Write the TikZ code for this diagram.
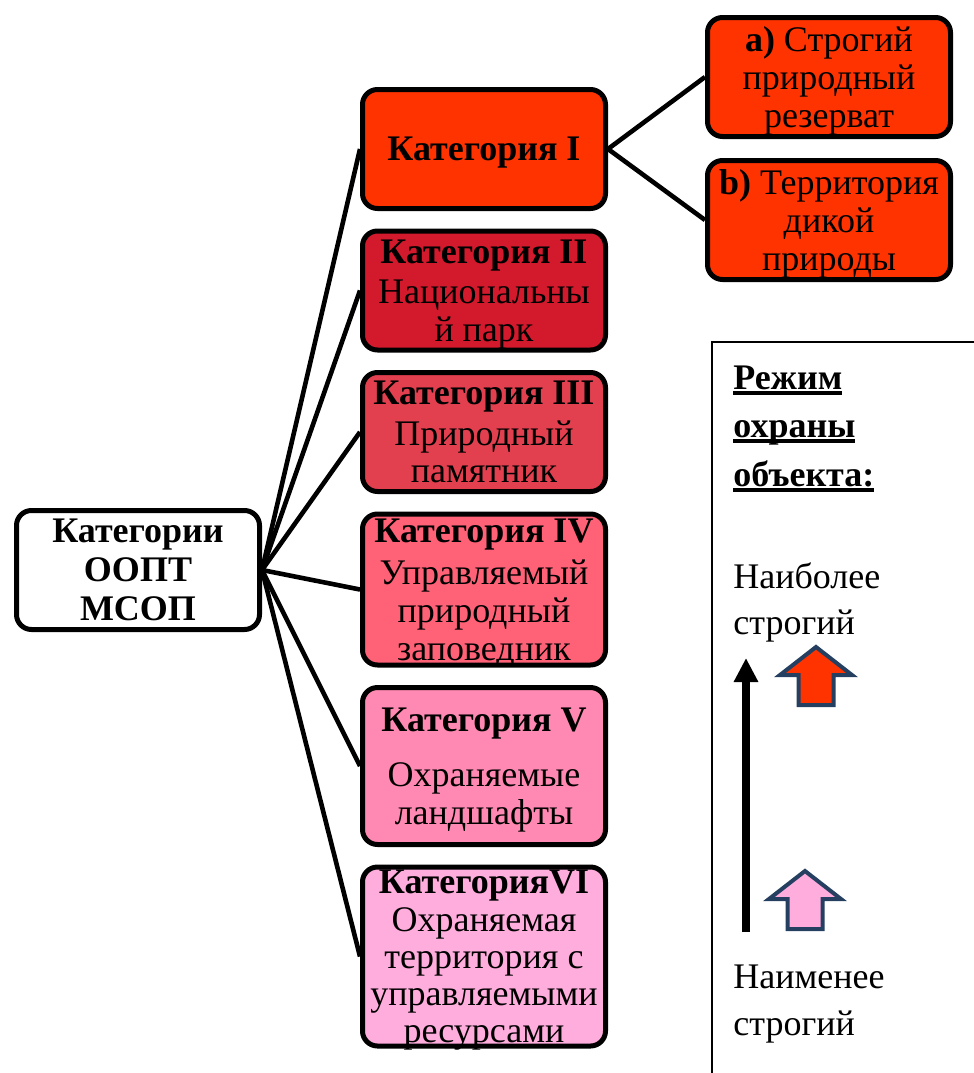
\documentclass[tikz,border=0pt]{standalone}
\usepackage{fontspec}
\setmainfont{Liberation Serif}
\usetikzlibrary{arrows.meta,positioning}

\newcommand{\thickul}[1]{\setbox0\hbox{#1}\makebox[0pt][l]{\rule[-3pt]{\wd0}{1.8pt}}\box0}

\definecolor{catI}{HTML}{FF3300}
\definecolor{catII}{HTML}{D31A2D}
\definecolor{catIII}{HTML}{E2404F}
\definecolor{catIV}{HTML}{FF6177}
\definecolor{catV}{HTML}{FF89B2}
\definecolor{catVI}{HTML}{FFADDD}
\definecolor{rimblue}{HTML}{243F60}

\tikzset{blockup/.pic={
	\path[pic actions] (0,0) -- (36,28) -- (17.5,28) -- (17.5,58) -- (-17.5,58) -- (-17.5,28) -- (-36,28) -- cycle;}}

\begin{document}
\begin{tikzpicture}[x=0.5pt,y=-0.5pt,node distance=8.75pt,font=\fontsize{18}{18.8}\selectfont]
	\tikzstyle{cat}=[draw,line width=2.5pt,rounded corners=7.5pt,align=center,minimum width=121.5pt,minimum height=59.5pt,inner xsep=1pt,inner ysep=0pt,text depth=0pt]
	\tikzstyle{link}=[line width=2.3pt]
	\tikzstyle{legend}=[anchor=base west,inner sep=0pt]
	\tikzstyle{rim}=[draw=rimblue,line width=2pt,line join=miter]

	\useasboundingbox (0,0) rectangle (974,1073);

	\node[cat,fill=white,font=\fontsize{18}{19.5}\selectfont\bfseries] (K) at (138,570) {Категории\\ООПТ\\МСОП};

	\node[cat,fill=catI] (K1) at (484,149) {\textbf{Категория I}};
	\node[cat,fill=catII] (K2) [below = of K1] {\textbf{Категория II}\\[1.5pt]Национальны\\й парк};
	\node[cat,fill=catIII] (K3) [below = of K2] {\textbf{Категория III}\\[1.5pt]Природный\\памятник};
	\node[cat,fill=catIV,minimum height=75.5pt] (K4) [below = of K3] {\textbf{Категория IV}\\[2.5pt]Управляемый\\природный\\заповедник};
	\node[cat,fill=catV,minimum height=78.5pt] (K5) [below = of K4] {\textbf{Категория V}\\[9pt]Охраняемые\\ландшафты};
	\node[cat,fill=catVI,minimum height=89.5pt,font=\fontsize{18}{18.6}\selectfont] (K6) [below = of K5] {\textbf{КатегорияVI}\\Охраняемая\\территория с\\управляемыми\\ресурсами};

	\node[cat,fill=catI] (Ka) at (829,77) {\textbf{a)} Строгий\\природный\\резерват};
	\node[cat,fill=catI] (Kb) [below = 9.5pt of Ka] {\textbf{b)} Территория\\дикой\\природы};

	\foreach \n in {1,...,6}
		\draw[link] (K.east) -- (K\n.west);
	\draw[link] (K1.east) -- (Ka.west);
	\draw[link] (K1.east) -- (Kb.west);

	% legend
	\draw[line width=0.6pt] (712,1073) |- (974,342);
	\node[legend,font=\fontsize{18}{18.8}\selectfont\bfseries] (L1) at (733,389) {\thickul{Режим}};
	\node[legend,font=\fontsize{18}{18.8}\selectfont\bfseries] (L2) at (733,437) {\thickul{охраны}};
	\node[legend,font=\fontsize{18}{18.8}\selectfont\bfseries] (L3) at (733,486) {\thickul{объекта:}};
	\node[legend] (T1) at (733,588) {Наиболее};
	\node[legend] (T2) at (733,634) {строгий};
	\node[legend] (B1) at (733,988) {Наименее};
	\node[legend] (B2) at (733,1035) {строгий};

	\coordinate (lo) at (746,932);
	\coordinate (hi) at (746,658);
	\draw[line width=4pt,-{Triangle[length=12pt,width=11.5pt]}] (lo) -- (hi);

	\pic[rim,fill=catI] at (816,647) {blockup};
	\pic[rim,fill=catVI] at (805,871) {blockup};
\end{tikzpicture}
\end{document}
